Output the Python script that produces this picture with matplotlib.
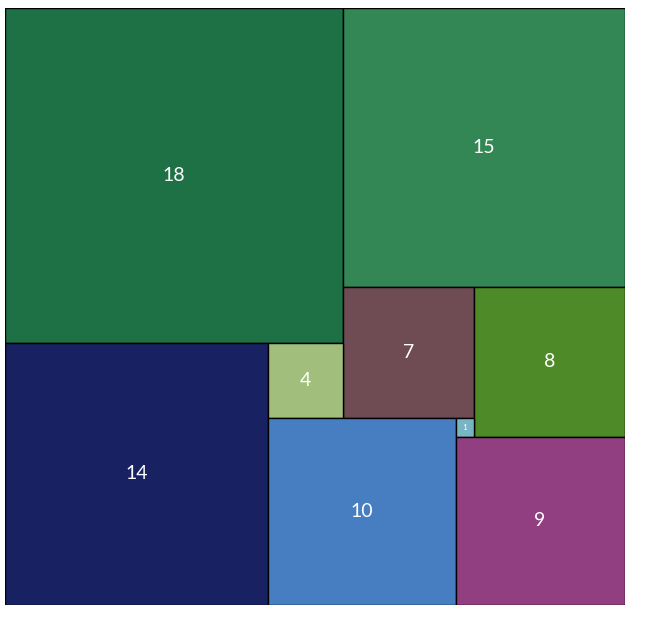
import matplotlib.pyplot as plt
from matplotlib.patches import Rectangle
import numpy as np

# square sides, in the order they get packed (top-left first)
sizes = [18, 15, 7, 8, 14, 4, 10, 1, 9]
colors = ['#1E7145', '#328754', '#6F4C53', '#4E8A27', '#182262',
          '#A2BE7C', '#467EC1', '#79B4C3', '#913F81']
WIDTH = 33
HEIGHT = 32


def pack(sizes, width, height):
    # put each square at the topmost, leftmost free cell
    grid = np.zeros((height, width), dtype=bool)
    spots = []
    for s in sizes:
        rows, cols = np.where(~grid)
        order = np.lexsort((cols, rows))
        r, c = rows[order[0]], cols[order[0]]
        grid[r:r + s, c:c + s] = True
        spots.append((c, r))
    return spots


fig = plt.figure(figsize=(6.51, 6.19), dpi=100)
ax = fig.add_axes([5.0 / 651, 1 - 604.5 / 619, 619.5 / 651, 597 / 619])

for (x, y), s, col in zip(pack(sizes, WIDTH, HEIGHT), sizes, colors):
    ax.add_patch(Rectangle((x, y), s, s, facecolor=col, edgecolor='black', linewidth=1))
    fs = 6 if s == 1 else 14
    ax.text(x + s / 2, y + s / 2, str(s), color='white', fontsize=fs,
            ha='center', va='center', family='Lato')

ax.set_xlim(0, WIDTH)
ax.set_ylim(HEIGHT, 0)
ax.axis('off')
fig.savefig('out.png')
